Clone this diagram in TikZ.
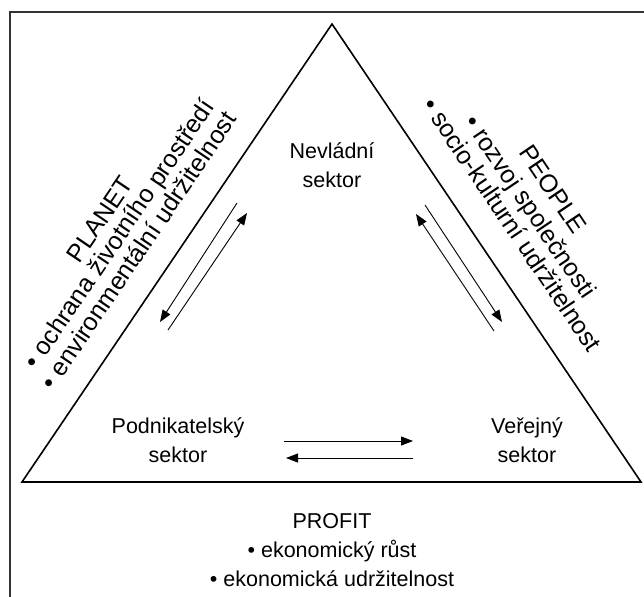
\documentclass[tikz,border=0pt]{standalone}
\usepackage{fontspec}
\setmainfont{Liberation Sans}
\usetikzlibrary{arrows.meta}
\begin{document}
\begin{tikzpicture}[x=1pt,y=-1pt,
  lbl/.style={font=\fontsize{21.5}{29}\selectfont, align=center, inner sep=0pt, anchor=base},
  rotl/.style={font=\fontsize{25}{30}\selectfont, inner sep=0pt, anchor=base, rotate=55.9},
  rotr/.style={font=\fontsize{25}{30}\selectfont, inner sep=0pt, anchor=base, rotate=-56},
  side/.style={line width=1.6pt, line join=miter},
  flow/.style={line width=0.9pt, -{Triangle[length=12pt,width=9pt]}},
  frame/.style={line width=2.2pt, black!80}]
\useasboundingbox (0,0) rectangle (644,596);
% frame
\coordinate (f1) at (10,600);
\coordinate (f2) at (10,12);
\coordinate (f3) at (650,12);
\draw[frame] (f1) -- (f2) -- (f3);
% triangle
\coordinate (top) at (332,24);
\coordinate (bl) at (22,482);
\coordinate (br) at (641,482);
\draw[side] (top) -- (br) -- (bl) -- cycle;
% sector labels (anchor = baseline of last line)
\node[lbl] (nev) at (332,187) {Nevládní\\sektor};
\node[lbl] (pod) at (178,462) {Podnikatelský\\sektor};
\node[lbl] (ver) at (527,462) {Veřejný\\sektor};
% profit
\node[lbl] (profit) at (332,586) {PROFIT\\• ekonomický růst\\• ekonomická udržitelnost};
% planet
\node[rotl] (planet) at (107,224) {PLANET};
\node[rotl] (pl1) at (126.1,238.9) {• ochrana životního prostředí};
\node[rotl] (pl2) at (145.7,255.1) {• environmentální udržitelnost};
% people
\node[rotr] (people) at (546,194) {PEOPLE};
\node[rotr] (pe1) at (523.3,211.4) {• rozvoj společnosti};
\node[rotr] (pe2) at (504.9,229.5) {• socio-kulturní udržitelnost};
% arrow ends
\coordinate (a1) at (237,203); \coordinate (a2) at (160,322);
\coordinate (b1) at (168,330); \coordinate (b2) at (247,213);
\coordinate (c1) at (425,205); \coordinate (c2) at (502,322);
\coordinate (d1) at (494,331); \coordinate (d2) at (416,214);
\coordinate (e1) at (284,441); \coordinate (e2) at (413,441);
\coordinate (g1) at (413,458); \coordinate (g2) at (286,458);
\draw[flow] (a1) -- (a2);
\draw[flow] (b1) -- (b2);
\draw[flow] (c1) -- (c2);
\draw[flow] (d1) -- (d2);
\draw[flow] (e1) -- (e2);
\draw[flow] (g1) -- (g2);
\end{tikzpicture}
\end{document}
